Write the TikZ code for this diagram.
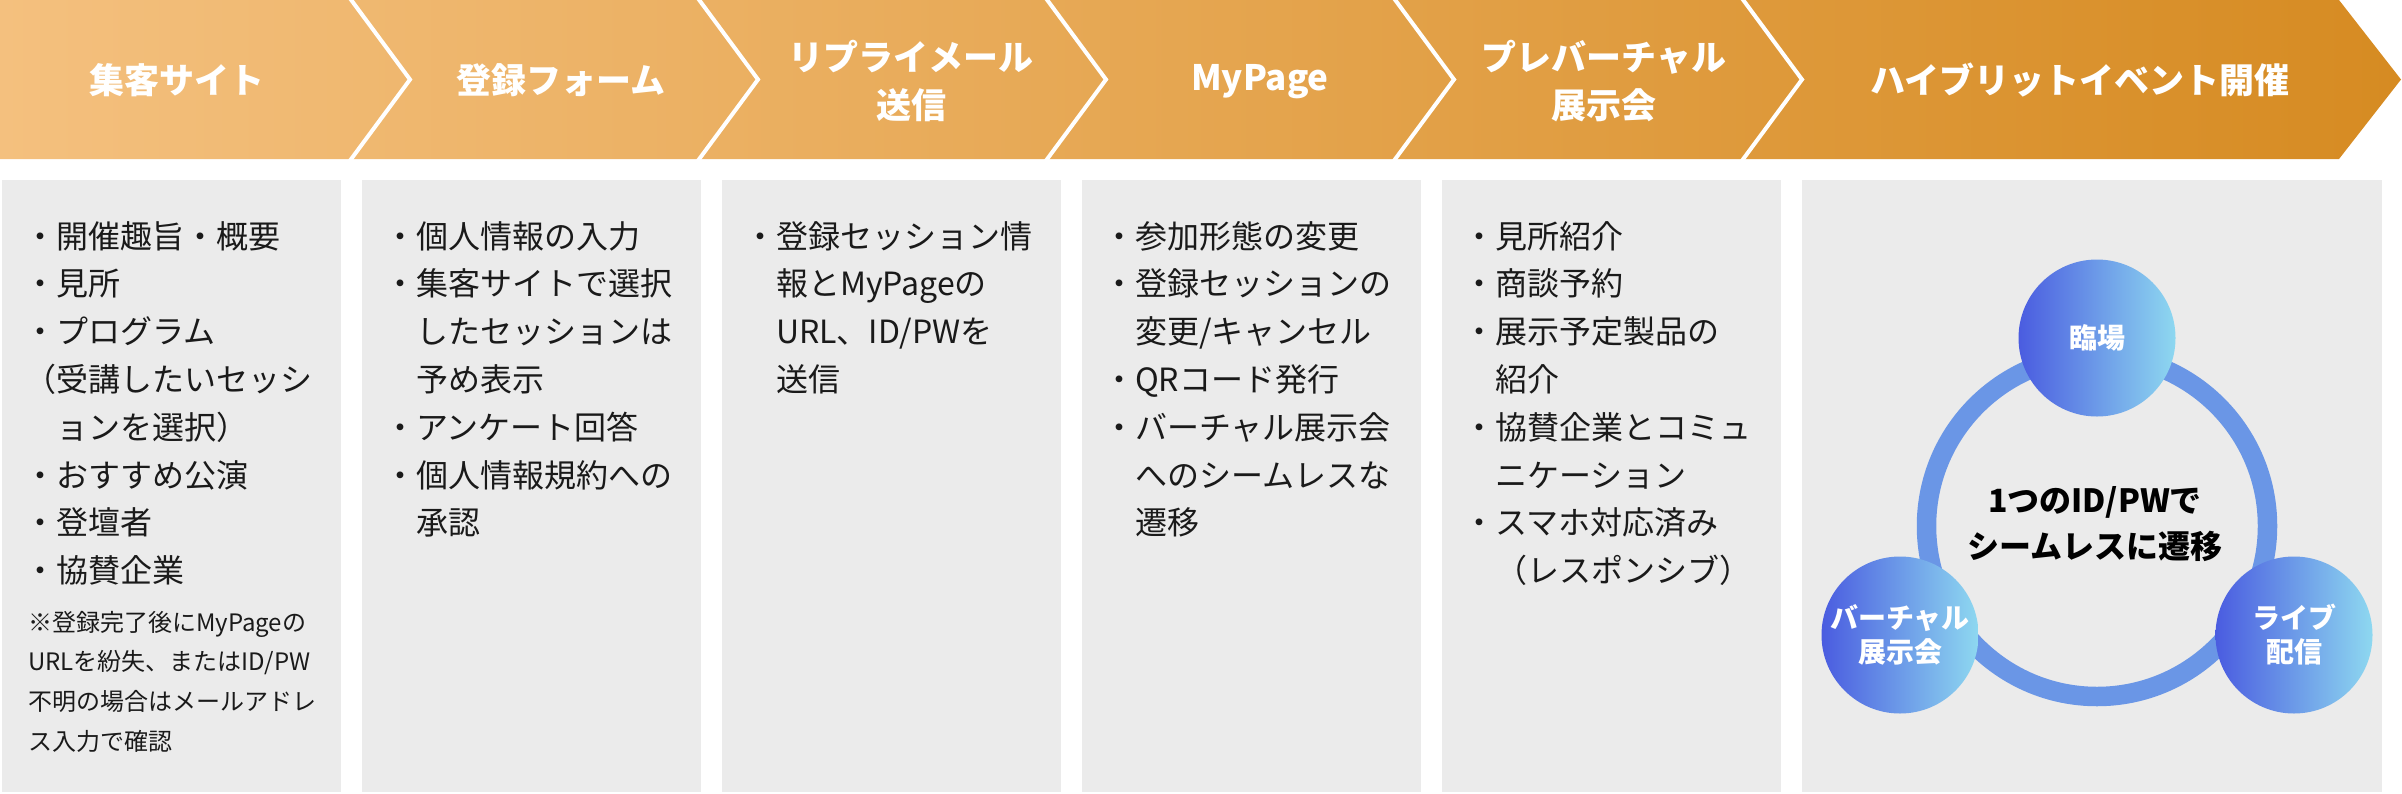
\documentclass[tikz,border=0pt]{standalone}
\usepackage{fontspec}
\setmainfont{Noto Sans CJK JP}
\definecolor{hdrL}{HTML}{F4C07E}
\definecolor{hdrR}{HTML}{D68B22}
\definecolor{boxgray}{HTML}{EBEBEB}
\definecolor{ringblue}{HTML}{6A96E6}
\definecolor{cirL}{HTML}{4A5CE0}
\definecolor{cirR}{HTML}{8ED8F0}
\definecolor{bodytext}{HTML}{1A1A1A}
\begin{document}
\begin{tikzpicture}[x=1pt,y=-1pt,
  hdrtext/.style={text=white, font=\bfseries\fontsize{35}{48}\selectfont, align=center, inner sep=0pt},
  bodyline/.style={anchor=base west, inner sep=0pt, text=bodytext, font=\fontsize{32}{32}\selectfont},
  noteline/.style={anchor=base west, inner sep=0pt, text=bodytext, font=\fontsize{24}{24}\selectfont},
  panel/.style={fill=boxgray, draw=none},
  sepline/.style={draw=white, line width=4pt, line join=miter},
  bubble/.style={circle, minimum size=157pt, inner sep=0pt, left color=cirL, right color=cirR, text=white, font=\bfseries\fontsize{28}{34}\selectfont, align=center},
  hubtext/.style={text=black, font=\bfseries\fontsize{32}{46}\selectfont, align=center, inner sep=0pt}
]
\useasboundingbox (0,0) rectangle (2402,793);
% header band
\shade[left color=hdrL, right color=hdrR] (0,0) -- (2339,0) -- (2401,79.5) -- (2339,159) -- (0,159) -- cycle;
\foreach \s in {349,697,1045,1393,1741}
  \draw[sepline] (\s,-3) -- (\s+61,79.5) -- (\s,162);
\node[hdrtext] (h1) at (177,80) {集客サイト};
\node[hdrtext] (h2) at (561,80) {登録フォーム};
\node[hdrtext] (h3) at (911,81) {リプライメール\\送信};
\node[hdrtext] (h4) at (1260,82) {MyPage};
\node[hdrtext] (h5) at (1604,81) {プレバーチャル\\展示会};
\node[hdrtext] (h6) at (2080,80) {ハイブリットイベント開催};
% panels
\foreach \x in {2,362,722,1082,1442}
  \fill[panel] (\x,180) rectangle (\x+339,792);
\fill[panel] (1802,180) rectangle (2382,792);
% panel 1
\foreach \t [count=\n] in {・開催趣旨・概要,・見所,・プログラム,（受講したいセッシ,　ョンを選択）,・おすすめ公演,・登壇者,・協賛企業}
  \node[bodyline] (a\n) at (24,248+47.8*\n-47.8) {\t};
\foreach \t [count=\n] in {※登録完了後にMyPageの,URLを紛失、またはID/PW,不明の場合はメールアドレ,ス入力で確認}
  \node[noteline] (an\n) at (28,631+39.7*\n-39.7) {\t};
% panel 2
\foreach \t [count=\n] in {・個人情報の入力,・集客サイトで選択,　したセッションは,　予め表示,・アンケート回答,・個人情報規約への,　承認}
  \node[bodyline] (b\n) at (384,248+47.8*\n-47.8) {\t};
% panel 3
\foreach \t [count=\n] in {・登録セッション情,　報とMyPageの,　URL、ID/PWを,　送信}
  \node[bodyline] (c\n) at (744,248+47.8*\n-47.8) {\t};
% panel 4
\foreach \t [count=\n] in {・参加形態の変更,・登録セッションの,　変更/キャンセル,・QRコード発行,・バーチャル展示会,　へのシームレスな,　遷移}
  \node[bodyline] (d\n) at (1103,248+47.8*\n-47.8) {\t};
% panel 5
\foreach \t [count=\n] in {・見所紹介,・商談予約,・展示予定製品の,　紹介,・協賛企業とコミュ,　ニケーション,・スマホ対応済み,　（レスポンシブ）}
  \node[bodyline] (e\n) at (1463,248+47.8*\n-47.8) {\t};
% panel 6 diagram
\coordinate (ringc) at (2097,526);
\draw[ringblue, line width=19.5pt] (ringc) circle[radius=170.5pt];
\node[bubble] (rinjo) at (2097,338) {臨場};
\node[bubble] (virtual) at (1900,635) {バーチャル\\展示会};
\node[bubble] (live) at (2294,635) {ライブ\\配信};
\node[hubtext] (hub) at (2095,524) {1つのID/PWで\\シームレスに遷移};
\end{tikzpicture}
\end{document}
